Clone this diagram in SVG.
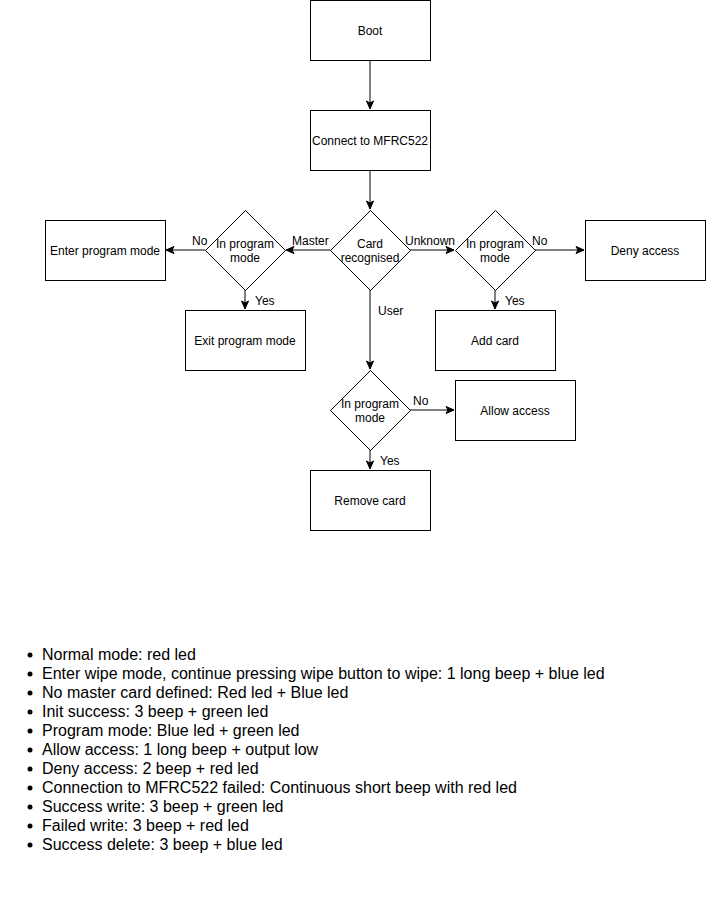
<svg xmlns="http://www.w3.org/2000/svg" width="706" height="902" viewBox="0 0 706 902">
<defs>
<style>
.n{fill:#fff;stroke:#000;stroke-width:1}
.t{font-family:"Liberation Sans",Arial,sans-serif;font-size:12px;fill:#000;text-anchor:middle}
.l{font-family:"Liberation Sans",Arial,sans-serif;font-size:12px;fill:#000}
.e{fill:none;stroke:#000;stroke-width:1}
.li{font-family:"Liberation Sans",Arial,sans-serif;font-size:16px;fill:#000}
</style>
<marker id="a" markerUnits="userSpaceOnUse" markerWidth="10" markerHeight="10" viewBox="-9 -5 10 10" refX="0" refY="0" orient="auto">
<path d="M-8,-3.5 L0,0 L-8,3.5 L-6,0 Z" fill="#000" stroke="#000" stroke-width="1"/>
</marker>
</defs>
<rect width="706" height="902" fill="#fff"/>
<g id="edges">
<path class="e" d="M370,60 V109" marker-end="url(#a)"/>
<path class="e" d="M370,170 V209" marker-end="url(#a)"/>
<path class="e" d="M330,250 H286" marker-end="url(#a)"/>
<path class="e" d="M205,250 H166" marker-end="url(#a)"/>
<path class="e" d="M245,290 V309" marker-end="url(#a)"/>
<path class="e" d="M410,250 H454" marker-end="url(#a)"/>
<path class="e" d="M535,250 H584" marker-end="url(#a)"/>
<path class="e" d="M495,290 V309" marker-end="url(#a)"/>
<path class="e" d="M370,290 V369" marker-end="url(#a)"/>
<path class="e" d="M410,410 H454" marker-end="url(#a)"/>
<path class="e" d="M370,450 V469" marker-end="url(#a)"/>
<text class="l" x="292" y="245">Master</text>
<text class="l" x="405" y="245">Unknown</text>
<text class="l" x="192" y="245">No</text>
<text class="l" x="255" y="305">Yes</text>
<text class="l" x="378" y="315">User</text>
<text class="l" x="532" y="245">No</text>
<text class="l" x="505" y="305">Yes</text>
<text class="l" x="413" y="405">No</text>
<text class="l" x="380" y="465">Yes</text>
</g>
<g id="boot"><rect class="n" x="310.5" y="0.5" width="120" height="60"/><text class="t" x="370" y="35">Boot</text></g>
<g id="connect"><rect class="n" x="310.5" y="110.5" width="120" height="60"/><text class="t" x="370" y="145">Connect to MFRC522</text></g>
<g id="card"><path class="n" d="M370.5,210.5 L410.5,250.5 L370.5,290.5 L330.5,250.5 Z"/><text class="t" x="370" y="248">Card</text><text class="t" x="370" y="262">recognised</text></g>
<g id="progL"><path class="n" d="M245.5,210.5 L285.5,250.5 L245.5,290.5 L205.5,250.5 Z"/><text class="t" x="245" y="248">In program</text><text class="t" x="245" y="262">mode</text></g>
<g id="progR"><path class="n" d="M495.5,210.5 L535.5,250.5 L495.5,290.5 L455.5,250.5 Z"/><text class="t" x="495" y="248">In program</text><text class="t" x="495" y="262">mode</text></g>
<g id="progB"><path class="n" d="M370.5,370.5 L410.5,410.5 L370.5,450.5 L330.5,410.5 Z"/><text class="t" x="370" y="408">In program</text><text class="t" x="370" y="422">mode</text></g>
<g id="enter"><rect class="n" x="45.5" y="220.5" width="120" height="60"/><text class="t" x="105" y="255">Enter program mode</text></g>
<g id="deny"><rect class="n" x="585.5" y="220.5" width="120" height="60"/><text class="t" x="645" y="255">Deny access</text></g>
<g id="exit"><rect class="n" x="185.5" y="310.5" width="120" height="60"/><text class="t" x="245" y="345">Exit program mode</text></g>
<g id="add"><rect class="n" x="435.5" y="310.5" width="120" height="60"/><text class="t" x="495" y="345">Add card</text></g>
<g id="allow"><rect class="n" x="455.5" y="380.5" width="120" height="60"/><text class="t" x="515" y="415">Allow access</text></g>
<g id="remove"><rect class="n" x="310.5" y="470.5" width="120" height="60"/><text class="t" x="370" y="505">Remove card</text></g>
<g id="notes">
<g fill="#000">
<circle cx="30" cy="655" r="2.5"/><circle cx="30" cy="674" r="2.5"/><circle cx="30" cy="693" r="2.5"/><circle cx="30" cy="712" r="2.5"/><circle cx="30" cy="731" r="2.5"/><circle cx="30" cy="750" r="2.5"/><circle cx="30" cy="769" r="2.5"/><circle cx="30" cy="788" r="2.5"/><circle cx="30" cy="807" r="2.5"/><circle cx="30" cy="826" r="2.5"/><circle cx="30" cy="845" r="2.5"/>
</g>
<text class="li" x="42" y="660">Normal mode: red led</text>
<text class="li" x="42" y="679">Enter wipe mode, continue pressing wipe button to wipe: 1 long beep + blue led</text>
<text class="li" x="42" y="698">No master card defined: Red led + Blue led</text>
<text class="li" x="42" y="717">Init success: 3 beep + green led</text>
<text class="li" x="42" y="736">Program mode: Blue led + green led</text>
<text class="li" x="42" y="755">Allow access: 1 long beep + output low</text>
<text class="li" x="42" y="774">Deny access: 2 beep + red led</text>
<text class="li" x="42" y="793">Connection to MFRC522 failed: Continuous short beep with red led</text>
<text class="li" x="42" y="812">Success write: 3 beep + green led</text>
<text class="li" x="42" y="831">Failed write: 3 beep + red led</text>
<text class="li" x="42" y="850">Success delete: 3 beep + blue led</text>
</g>
</svg>
